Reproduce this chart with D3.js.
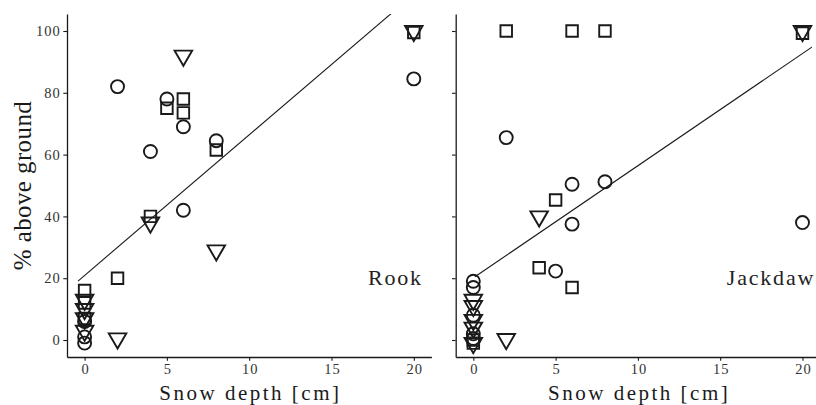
<!DOCTYPE html>
<html>
<head>
<meta charset="utf-8">
<script src="https://cdn.jsdelivr.net/npm/d3@7"></script>
<style>
  body { margin: 0; background: #fff; }
  text { font-family: "Liberation Serif", "Times New Roman", serif; }
</style>
</head>
<body>
<svg id="chart" width="816" height="405"></svg>
<script>
// snow depth vs % above ground, two panels

const xTicks = [0, 5, 10, 15, 20];
const yTicks = [0, 20, 40, 60, 80, 100];
const panelNames = ["Rook", "Jackdaw"];

// Rook points [snow depth, % above ground]
const rookCircles = [[0, 6], [0, 1], [0, -1], [2, 82], [4, 61], [5, 78], [6, 69], [6, 42], [8, 64.5], [20, 84.5]];
const rookSquares = [[0, 16], [0, 12], [0, 7], [2, 20], [4, 40], [5, 75], [6, 78], [6, 73.5], [8, 61.5], [20, 99.5]];
const rookTriangles = [[0, 13], [0, 10], [0, 7], [0, 3], [2, 0.5], [4, 38], [6, 92], [8, 29], [20, 100]];

// Jackdaw points
const jackCircles = [[0, 19], [0, 17], [0, 8], [0, 2], [0, 0.5], [2, 65.5], [5, 22.3], [6, 50.4], [6, 37.5], [8, 51.2], [20, 38]];
const jackSquares = [[0, 0], [0, -1], [2, 100], [4, 23.4], [5, 45.3], [6, 100], [6, 17], [8, 100], [20, 99.3]];
const jackTriangles = [[0, 13], [0, 11], [0, 6.5], [0, 4], [0, -1], [2, 0.3], [4, 40], [20, 100]];

// fitted lines
const fitIntercept = [20.9, 20.1];
const fitSlope = [4.55, 3.63];
const fitFrom = [-0.4, 0.1];
const fitTo = [21, 20.57];

window.addEventListener("DOMContentLoaded", () => {
  const svg = d3.select("#chart");
  const top = 14, bottom = 357;
  const panelLeft = [67, 455.7];
  const panelWidth = 364.4;
  const ink = "#1a1a1a";

  const y = d3.scaleLinear().domain([-5.5, 105.5]).range([bottom, top]);

  const pointSets = [
    [rookCircles, rookSquares, rookTriangles],
    [jackCircles, jackSquares, jackTriangles]
  ];
  const shapes = [d3.symbolCircle, d3.symbolSquare, d3.symbolTriangle];
  const rotations = [0, 0, 180];
  const labelX = [20.55, 20.77];

  panelNames.forEach((name, i) => {
    const x = d3.scaleLinear().domain([-1.07, 21.07])
      .range([panelLeft[i], panelLeft[i] + panelWidth]);

    svg.append("clipPath").attr("id", "clip" + i)
      .append("rect")
      .attr("x", panelLeft[i]).attr("y", top)
      .attr("width", panelWidth).attr("height", bottom - top);

    const g = svg.append("g");

    // axes
    const yAxis = g.append("g")
      .attr("transform", `translate(${panelLeft[i]},0)`)
      .call(d3.axisLeft(y).tickValues(yTicks).tickSize(3.7).tickSizeOuter(0).tickPadding(2.6)
        .tickFormat(i === 0 ? d3.format("d") : () => ""));
    const xAxis = g.append("g")
      .attr("transform", `translate(0,${bottom})`)
      .call(d3.axisBottom(x).tickValues(xTicks).tickSize(3.7).tickSizeOuter(0).tickPadding(3.5));

    [yAxis, xAxis].forEach(ax => {
      ax.select(".domain").attr("stroke", ink).attr("stroke-width", 1.3);
      ax.selectAll(".tick line").attr("stroke", ink).attr("stroke-width", 1.1);
      ax.selectAll(".tick text")
        .attr("font-size", 14.5)
        .attr("letter-spacing", 1)
        .attr("fill", "#333");
    });
    xAxis.selectAll(".tick text").attr("dx", "0.5");

    // x title
    svg.append("text")
      .attr("x", panelLeft[i] + panelWidth / 2)
      .attr("y", 400)
      .attr("dx", 1.25)
      .attr("text-anchor", "middle")
      .attr("font-size", 21)
      .attr("letter-spacing", 2.5)
      .attr("fill", ink)
      .text("Snow depth [cm]");

    // regression line
    g.append("line")
      .attr("clip-path", `url(#clip${i})`)
      .attr("x1", x(fitFrom[i]))
      .attr("y1", y(fitIntercept[i] + fitSlope[i] * fitFrom[i]))
      .attr("x2", x(fitTo[i]))
      .attr("y2", y(fitIntercept[i] + fitSlope[i] * fitTo[i]))
      .attr("stroke", ink)
      .attr("stroke-width", 1.1);

    // points
    pointSets[i].forEach((pts, s) => {
      g.selectAll(null)
        .data(pts)
        .enter()
        .append("path")
        .attr("d", d3.symbol().type(shapes[s]).size(133))
        .attr("transform", d => `translate(${x(d[0])},${y(d[1])}) rotate(${rotations[s]})`)
        .attr("fill", "none")
        .attr("stroke", ink)
        .attr("stroke-width", 1.9);
    });

    // panel label
    g.append("text")
      .attr("x", x(labelX[i]))
      .attr("y", y(17.8))
      .attr("text-anchor", "end")
      .attr("font-size", 22)
      .attr("letter-spacing", 1.8)
      .attr("fill", "#222")
      .text(name);
  });

  // y title
  svg.append("text")
    .attr("transform", `translate(31,${(top + bottom) / 2}) rotate(-90)`)
    .attr("text-anchor", "middle")
    .attr("font-size", 25)
    .attr("letter-spacing", 0.4)
    .attr("fill", ink)
    .text("% above ground");
});
</script>
</body>
</html>
